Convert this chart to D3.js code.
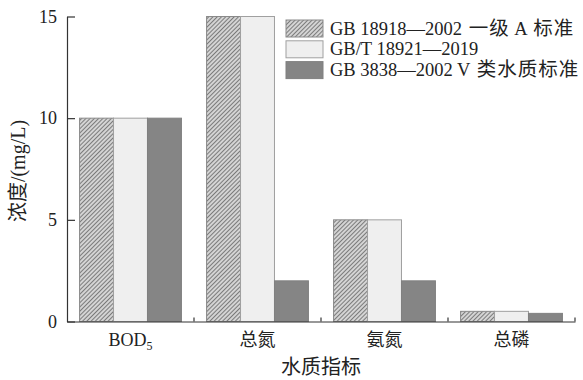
<!DOCTYPE html>
<html><head><meta charset="utf-8">
<script src="https://cdn.jsdelivr.net/npm/d3@7"></script>
<style>
body{margin:0;background:#fff;}
text{font-family:"Liberation Serif","Noto Sans CJK SC",serif;fill:#222;}
</style></head>
<body><svg id="c" width="583" height="380"></svg>
<script>
const categories = ["BOD5","总氮","氨氮","总磷"];
const seriesNames = ["GB 18918—2002 一级 A 标准","GB/T 18921—2019","GB 3838—2002 V 类水质标准"];
const values = [
  [10, 15, 5, 0.5],
  [10, 15, 5, 0.5],
  [10, 2, 2, 0.4]
];
const yTicks = [0,5,10,15];

const svg = d3.select("#c");
const L=67, R=575, T=16.5, B=321.5;
const fs = 18;

const defs = svg.append("defs");
const pat = defs.append("pattern").attr("id","hatch").attr("patternUnits","userSpaceOnUse")
  .attr("width",3).attr("height",3).attr("patternTransform","rotate(45)");
pat.append("rect").attr("width",3).attr("height",3).attr("fill","#d4d4d4");
pat.append("line").attr("x1",0.5).attr("y1",0).attr("x2",0.5).attr("y2",3).attr("stroke","#707070").attr("stroke-width",0.9);

const fills = ["url(#hatch)","#efefef","#858585"];
const strokes = ["#8a8a8a","#a0a0a0","#808080"];

const x0 = d3.scaleBand().domain(categories).range([L,R]).padding(0);
const x1 = d3.scaleBand().domain(d3.range(3)).range([0,x0.bandwidth()]).paddingInner(0).paddingOuter(0.37);
const y = d3.scaleLinear().domain([0,15]).range([B,T]);

// mixed-script text: CJK runs slightly larger
const isCJK = ch => /[\u3000-\u9fff\uff00-\uffef]/.test(ch);
function mixed(sel, str, latinSize, cjkSize, cjkSpacing, gap){
  const runs = [];
  for(const ch of str){
    const c = isCJK(ch);
    if(runs.length && runs[runs.length-1].c===c) runs[runs.length-1].s += ch;
    else runs.push({c, s:ch});
  }
  runs.forEach((r,i)=>{
    const ts = sel.append("tspan").style("font-size",(r.c?cjkSize:latinSize)+"px").text(r.s);
    if(r.c && cjkSpacing) ts.style("letter-spacing",cjkSpacing+"px");
    if(gap && i>0 && /\s$/.test(runs[i-1].s)) ts.attr("dx",gap);
  });
}

// bars
categories.forEach((c,ci)=>{
  d3.range(3).forEach(si=>{
    const v = values[si][ci];
    svg.append("rect")
      .attr("x", x0(c)+x1(si)).attr("y", y(v))
      .attr("width", x1.bandwidth()).attr("height", y(0)-y(v))
      .attr("fill", fills[si]).attr("stroke", strokes[si]).attr("stroke-width",1);
  });
});

// y axis
const ya = svg.append("g").attr("transform",`translate(${L},0)`)
  .call(d3.axisLeft(y).tickValues(yTicks).tickSizeInner(-8).tickSizeOuter(0).tickPadding(10));
ya.select(".domain").attr("stroke","#333").attr("stroke-width",1.2);
ya.selectAll(".tick line").attr("stroke","#333").attr("stroke-width",1.2);
ya.selectAll(".tick text").style("font-size",fs+"px").attr("font-family",null).attr("fill","#222");

// x axis
const xa = svg.append("g").attr("transform",`translate(0,${B})`)
  .call(d3.axisBottom(x0).tickSize(0).tickPadding(12));
xa.select(".domain").attr("stroke","#333").attr("stroke-width",1.2);
xa.selectAll(".tick text").style("font-size",fs+"px").attr("font-family",null).attr("fill","#222")
  .each(function(d){
    if(d==="BOD5"){
      const t=d3.select(this); t.text("BOD");
      t.append("tspan").text("5").style("font-size","12px").attr("dy","4");
    }
  });
// boundary ticks
const bounds = categories.map(c=>x0(c)).concat([R]).slice(1);
svg.append("g").selectAll("line").data(bounds).join("line")
  .attr("x1",d=>d).attr("x2",d=>d).attr("y1",B).attr("y2",B-4)
  .attr("stroke","#333").attr("stroke-width",1.2);

// axis titles
const yt = svg.append("text").attr("transform",`translate(25,${(T+B)/2+2}) rotate(-90)`)
  .attr("text-anchor","middle");
mixed(yt, "浓度/(mg/L)", 20, 20, 0, 0);
const xt = svg.append("text").attr("x",(L+R)/2).attr("y",374).attr("text-anchor","middle");
mixed(xt, "水质指标", 20, 20, 0, 0);

// legend
const lg = svg.append("g").attr("transform","translate(286,20)");
seriesNames.forEach((n,i)=>{
  const g = lg.append("g").attr("transform",`translate(0,${i*20.8})`);
  g.append("rect").attr("width",37).attr("height",17).attr("fill",fills[i]).attr("stroke",strokes[i]);
  const t = g.append("text").attr("x",44).attr("y",14.5).style("white-space","pre");
  mixed(t, n, 18.5, 19.5, 1, 2);
});
</script></body></html>
